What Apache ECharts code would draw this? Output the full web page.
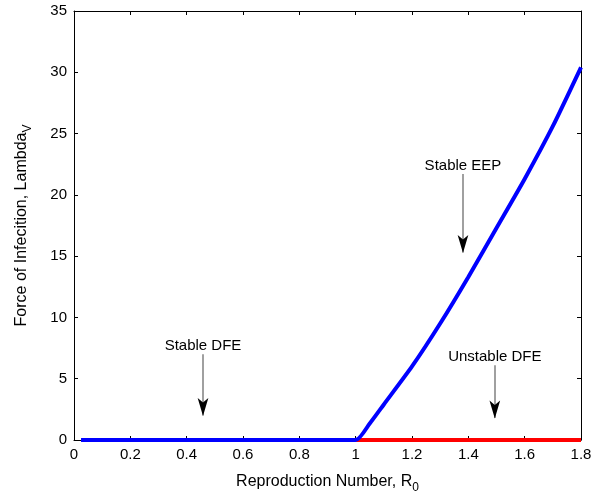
<!DOCTYPE html>
<html>
<head>
<meta charset="utf-8">
<script src="https://cdn.jsdelivr.net/npm/echarts@6/dist/echarts.min.js"></script>
<style>
  html, body { margin: 0; padding: 0; background: #fff; }
  #chart { width: 600px; height: 499px; }
</style>
</head>
<body>
<div id="chart"></div>
<script>
// data
const stableCurve = [
  [0.025, 0], [1.0, 0], [1.05, 1.35], [1.1, 2.9], [1.2, 6.0], [1.3, 9.5],
  [1.4, 13.3], [1.5, 17.3], [1.6, 21.3], [1.7, 25.6], [1.8, 30.4]
]
const unstableLine = [[1.0, 0], [1.8, 0]]
// [text, x, textY, arrowTopY, arrowTipY]
const notes = [
  ['Stable DFE', 0.458, 7.7, 7.0, 1.4],
  ['Stable EEP', 1.381, 22.4, 21.7, 14.7],
  ['Unstable DFE', 1.494, 6.8, 6.1, 1.2]
]

const font = 'Liberation Sans, Arial, sans-serif'
const chart = echarts.init(document.getElementById('chart'))

const boxAxis = {
  show: true,
  axisLine: { show: true, onZero: false, lineStyle: { color: '#000', width: 1 } },
  axisTick: { show: true, inside: true, length: 4, lineStyle: { color: '#000' } },
  axisLabel: { show: false },
  splitLine: { show: false }
}

chart.setOption({
  animation: false,
  grid: { left: 74, right: 19, top: 11, bottom: 55 },
  xAxis: [
    {
      type: 'value',
      min: 0,
      max: 1.8,
      interval: 0.2,
      name: 'Reproduction Number, R{sub|0}',
      nameLocation: 'middle',
      nameGap: 30,
      nameTextStyle: {
        color: '#000', fontSize: 16, fontFamily: font,
        rich: { sub: { fontSize: 12, fontFamily: font, color: '#000', padding: [12, 0, 0, 0] } }
      },
      axisLine: { show: true, onZero: false, lineStyle: { color: '#000' } },
      axisTick: { show: true, inside: true, length: 4, lineStyle: { color: '#000' } },
      axisLabel: {
        color: '#000', fontSize: 15, fontFamily: font, margin: 7,
        formatter: v => String(Math.round(v * 10) / 10)
      },
      splitLine: { show: false }
    },
    Object.assign({ type: 'value', position: 'top', min: 0, max: 1.8, interval: 0.2 }, boxAxis)
  ],
  yAxis: [
    {
      type: 'value',
      min: 0,
      max: 35,
      interval: 5,
      name: 'Force of Infecition, Lambda{sub|V}',
      nameLocation: 'middle',
      nameGap: 40,
      nameTextStyle: {
        color: '#000', fontSize: 16, fontFamily: font,
        rich: { sub: { fontSize: 12, fontFamily: font, color: '#000', padding: [12, 0, 0, 0] } }
      },
      axisLine: { show: true, onZero: false, lineStyle: { color: '#000' } },
      axisTick: { show: true, inside: true, length: 4, lineStyle: { color: '#000' } },
      axisLabel: { color: '#000', fontSize: 15, fontFamily: font, margin: 7 },
      splitLine: { show: false }
    },
    Object.assign({ type: 'value', position: 'right', min: 0, max: 35, interval: 5 }, boxAxis)
  ],
  series: [
    {
      type: 'line',
      data: unstableLine,
      symbol: 'none',
      z: 2,
      lineStyle: { color: '#ff0000', width: 4 }
    },
    {
      type: 'line',
      data: stableCurve,
      symbol: 'none',
      smooth: 0.2,
      z: 3,
      lineStyle: { color: '#0000ff', width: 4 },
      markLine: {
        silent: true,
        symbol: ['none', 'none'],
        label: { show: false },
        lineStyle: { color: '#808080', width: 1.5, type: 'solid' },
        data: notes.map(n => [{ coord: [n[1], n[3]] }, { coord: [n[1], n[4] + 0.6] }])
      },
      markPoint: {
        silent: true,
        data: notes.map(n => ({
          coord: [n[1], n[4] + 0.55],
          symbol: 'arrow',
          symbolSize: [8, 18],
          symbolRotate: 180,
          itemStyle: { color: '#000' },
          label: { show: false }
        })).concat(notes.map(n => ({
          coord: [n[1], n[2]],
          symbol: 'rect',
          symbolSize: 1,
          itemStyle: { color: 'rgba(0,0,0,0)' },
          label: {
            show: true,
            position: 'inside',
            formatter: n[0],
            color: '#000',
            fontSize: 15,
            fontFamily: font
          }
        })))
      }
    }
  ]
})
</script>
</body>
</html>
